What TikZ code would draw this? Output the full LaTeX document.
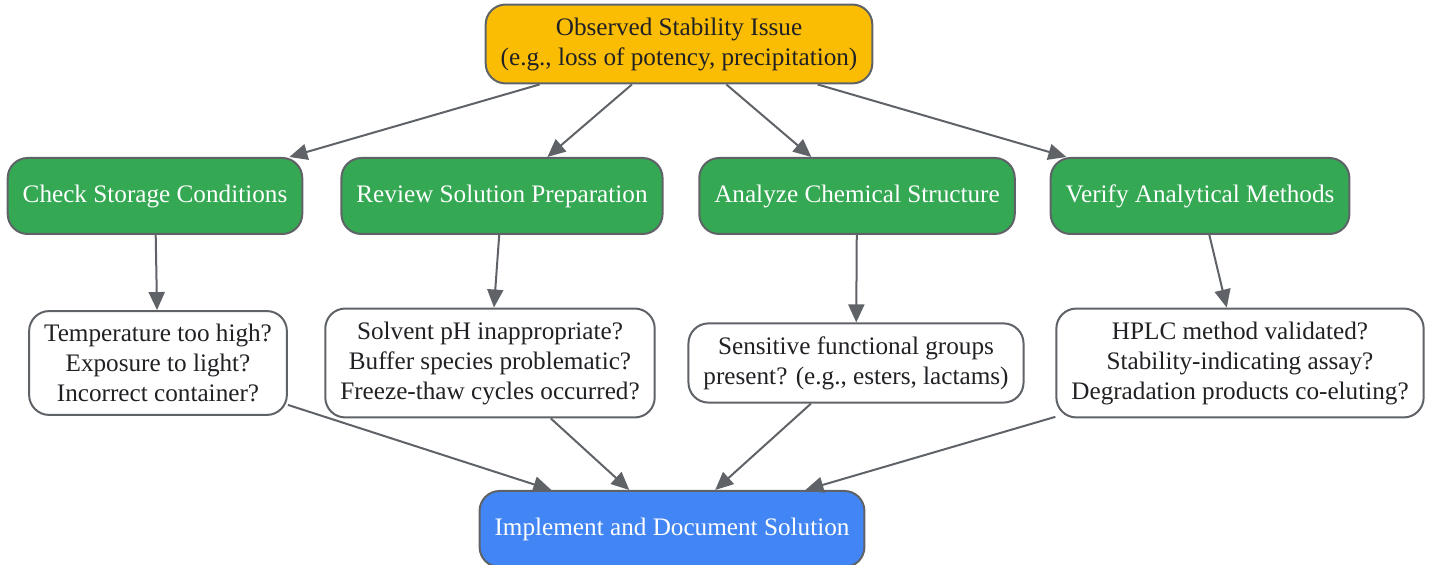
\documentclass[tikz,border=0pt]{standalone}
\usepackage{fontspec}
\setmainfont{Liberation Serif}
\usetikzlibrary{arrows.meta}

\definecolor{issueyellow}{HTML}{FBBC04}
\definecolor{checkgreen}{HTML}{34A853}
\definecolor{solveblue}{HTML}{4285F4}
\definecolor{edgegray}{HTML}{5F6368}
\definecolor{textgray}{HTML}{202124}

\tikzset{
	box/.style={draw=edgegray, line width=1pt, rounded corners=10pt, align=center,
		inner xsep=7.5pt, inner ysep=6.5pt, font=\fontsize{12.6}{15}\selectfont},
	issue/.style={box, fill=issueyellow, text=textgray, minimum height=38pt},
	check/.style={box, fill=checkgreen, text=white, minimum height=38pt},
	question/.style={box, fill=white, text=textgray},
	solution/.style={box, fill=solveblue, text=white, minimum height=38pt},
	link/.style={draw=edgegray, line width=1pt, -{Triangle[length=9pt,width=8pt]}}
}

\begin{document}
\begin{tikzpicture}[x=0.5pt,y=-0.5pt]
		\useasboundingbox (0,0) rectangle (1429,565);
		\node[issue] (issue) at (679,44) {Observed Stability Issue\\(e.g., loss of potency, precipitation)};

		\node[check] (storage) at (155,196) {Check Storage Conditions};
		\node[check] (prep) at (502,196) {Review Solution Preparation};
		\node[check] (struct) at (857,196) {Analyze Chemical Structure};
		\node[check] (methods) at (1200,196) {Verify Analytical Methods};

		\node[question] (storageq) at (158,363) {Temperature too high?\\Exposure to light?\\Incorrect container?};
		\node[question] (prepq) at (490,363) {Solvent pH inappropriate?\\Buffer species problematic?\\Freeze-thaw cycles occurred?};
		\node[question] (structq) at (856,363) {Sensitive functional groups\\present? (e.g., esters, lactams)};
		\node[question] (methodsq) at (1240,363) {HPLC method validated?\\Stability-indicating assay?\\Degradation products co-eluting?};

		\node[solution] (solution) at (672,529) {Implement and Document Solution};

		\foreach \a/\b in {issue/storage, issue/prep, issue/struct, issue/methods,
				storage/storageq, prep/prepq, struct/structq, methods/methodsq,
				storageq/solution, prepq/solution, structq/solution, methodsq/solution}
			\draw[link] (\a) -- (\b);
	\end{tikzpicture}
\end{document}
